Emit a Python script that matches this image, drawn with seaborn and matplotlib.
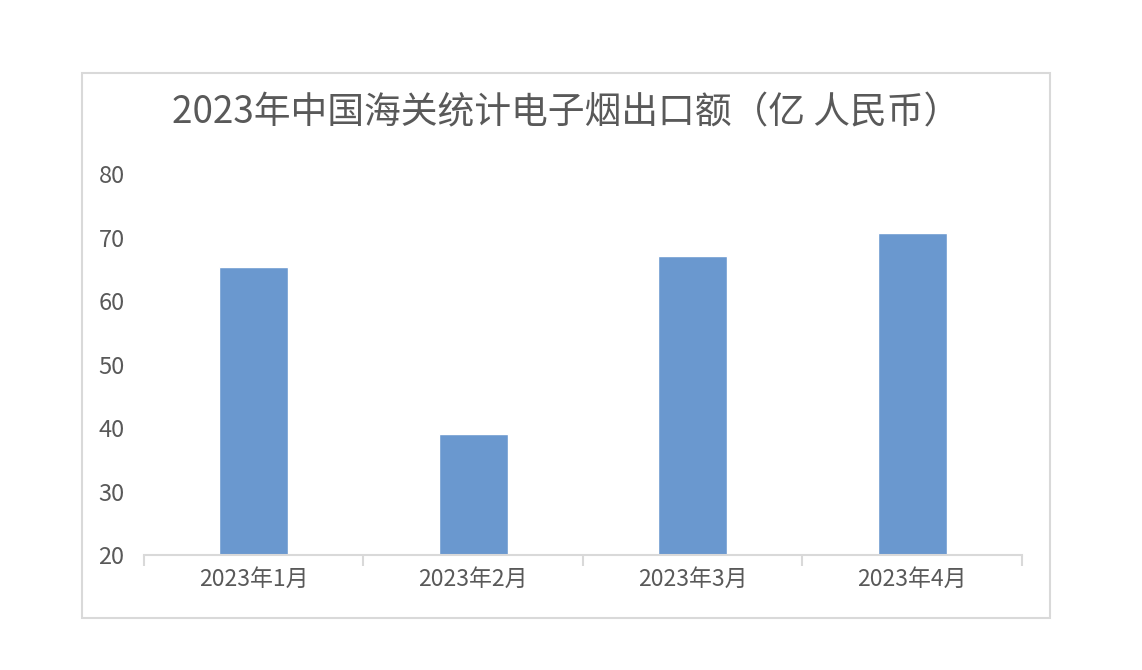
import seaborn as sns
import matplotlib.pyplot as plt
import matplotlib.patches as mpatches
import pandas as pd

months = ["2023年1月", "2023年2月", "2023年3月", "2023年4月"]
export_value = [65.3, 39.1, 67.1, 70.7]
y_ticks = [20, 30, 40, 50, 60, 70, 80]
title = "2023年中国海关统计电子烟出口额（亿 人民币）"

sns.set_theme(style="white")
plt.rcParams['font.family'] = ['Noto Sans CJK SC', 'DejaVu Sans']

df = pd.DataFrame({"month": months, "value": export_value})

fig = plt.figure(figsize=(11.42, 6.70), dpi=100)
ax = fig.add_axes([0.1261, 0.1716, 0.7688, 0.5687])

sns.barplot(data=df, x="month", y="value", color="#6a98cf", width=0.315,
            saturation=1, ax=ax)

ax.set_ylim(20, 80)
ax.set_xlim(-0.5, len(months) - 0.5)
ax.set_yticks(y_ticks)
ax.set_xlabel("")
ax.set_ylabel("")

for s in ["top", "right", "left"]:
    ax.spines[s].set_visible(False)
ax.spines["bottom"].set_color("#d9d9d9")
ax.spines["bottom"].set_linewidth(1.5)

ax.tick_params(axis="y", length=0, pad=14, labelsize=17, labelcolor="#595959")
ax.tick_params(axis="x", which="major", length=0, pad=9, labelsize=16.5, labelcolor="#595959")
ax.set_xticks([i - 0.5 for i in range(len(months) + 1)], minor=True)
ax.tick_params(axis="x", which="minor", bottom=True, length=8, width=1.5, color="#d9d9d9")

fig.text(0.496, 0.831, title, ha="center", va="center", fontsize=26.5, color="#595959")

# chart frame
fig.patches.append(mpatches.Rectangle((0.0718, 0.0776), 0.8476, 0.8134,
                                      transform=fig.transFigure, fill=False,
                                      edgecolor="#d9d9d9", linewidth=1.5))

plt.savefig("out.png", dpi=100)
